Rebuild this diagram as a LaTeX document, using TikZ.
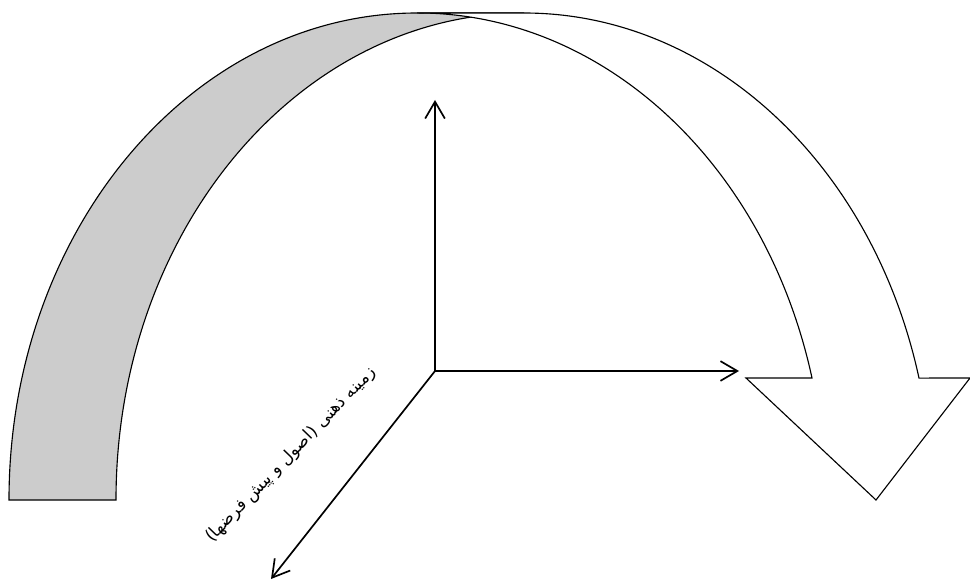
\documentclass[tikz,border=0pt]{standalone}
\usepackage{fontspec}
\newfontfamily\arabicfont[Script=Arabic]{DejaVu Sans}
\TeXXeTstate=1
\usepackage{tikz}
\usetikzlibrary{arrows.meta}

\begin{document}
\begin{tikzpicture}[
  x=0.025cm, y=0.025cm,
  band/.style={draw=black, line width=0.8pt},
  back/.style={band, fill=black!20},
  front/.style={band, fill=white},
  axis/.style={line width=1.2pt, -{Straight Barb[length=12pt, width=14pt]}},
  lbl/.style={font=\arabicfont\fontsize{12}{14}\selectfont, rotate=46},
]
\useasboundingbox (0,0) rectangle (970,581);

% back of the curved band (gray)
\draw[back] (9,81) arc[start angle=180, end angle=90, x radius=408, y radius=487]
  -- (524,568) arc[start angle=90, end angle=180, x radius=408, y radius=487]
  -- cycle;

% front of the band, ending in the arrow head
\draw[front] (812,203) arc[start angle=14.5, end angle=90, x radius=408, y radius=487]
  -- (524,568) arc[start angle=90, end angle=14.5, x radius=408, y radius=487]
  -- (970,203) -- (876,81) -- (746,203) -- cycle;

% axes
\coordinate (o) at (435,210);
\coordinate (yend) at (435,481);
\coordinate (xend) at (739,210);
\coordinate (zend) at (271,2);
\draw[axis] (o) -- (yend);
\draw[axis] (o) -- (xend);
\draw[axis] (o) -- (zend);

% label along the slanted axis
\node[lbl] (ctx) at (291,126) {\beginR زمینه ذهنی (اصول و پیش فرضها)\endR};

\end{tikzpicture}
\end{document}
